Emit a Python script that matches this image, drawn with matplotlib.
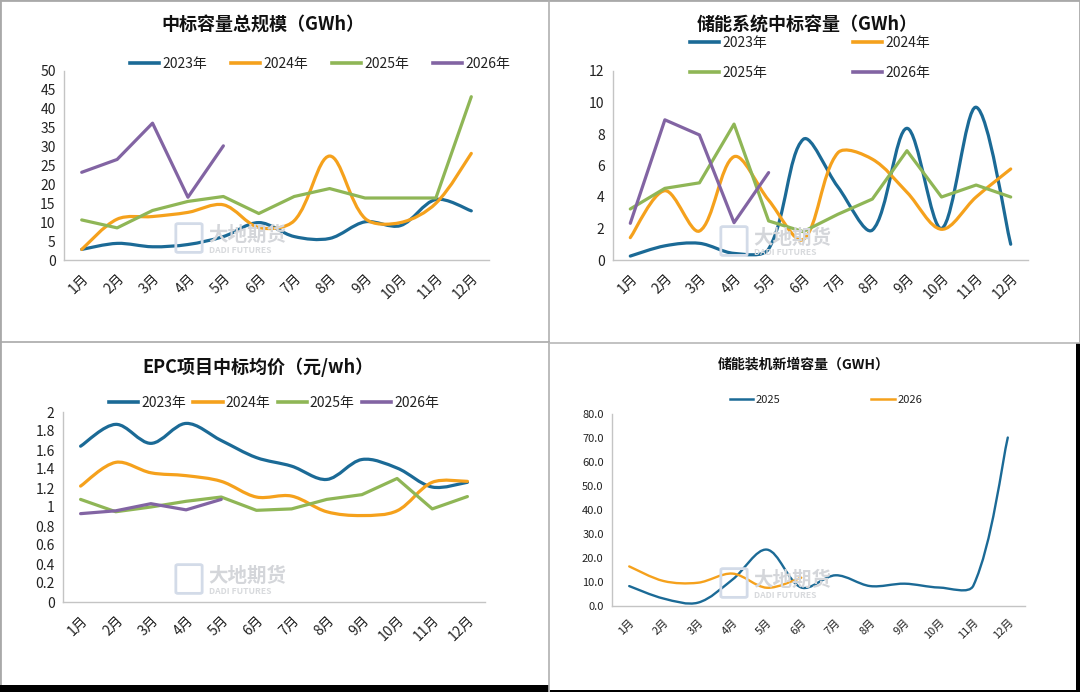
import numpy as np
import matplotlib
matplotlib.use("Agg")
import matplotlib.pyplot as plt
from matplotlib.path import Path
from matplotlib.patches import PathPatch, Rectangle, FancyBboxPatch
from matplotlib.lines import Line2D

plt.rcParams['font.family'] = ['Noto Sans CJK SC', 'DejaVu Sans']

months = ['1月', '2月', '3月', '4月', '5月', '6月', '7月', '8月', '9月', '10月', '11月', '12月']

# 中标容量总规模
total_2023 = [2.8, 4.4, 3.5, 4.1, 6.2, 9.9, 6.2, 5.7, 10.1, 9.1, 16.0, 13.0]
total_2024 = [2.8, 10.8, 11.5, 12.6, 14.6, 8.6, 10.4, 27.5, 11.0, 9.9, 15.0, 28.2]
total_2025 = [10.6, 8.5, 13.1, 15.5, 16.8, 12.3, 16.8, 18.9, 16.4, 16.4, 16.4, 43.2]
total_2026 = [23.2, 26.6, 36.2, 16.6, 30.2]

# 储能系统中标容量
sys_2023 = [0.25, 0.9, 1.06, 0.42, 0.7, 7.66, 4.65, 1.9, 8.36, 2.0, 9.7, 1.0]
sys_2024 = [1.42, 4.4, 1.84, 6.56, 3.8, 1.3, 6.8, 6.4, 4.3, 1.95, 4.0, 5.78]
sys_2025 = [3.24, 4.55, 4.9, 8.63, 2.48, 1.8, 2.9, 3.87, 6.94, 4.0, 4.76, 4.0]
sys_2026 = [2.33, 8.9, 7.94, 2.37, 5.55]

# EPC项目中标均价
epc_2023 = [1.64, 1.87, 1.67, 1.88, 1.70, 1.52, 1.43, 1.29, 1.50, 1.41, 1.21, 1.26]
epc_2024 = [1.22, 1.47, 1.36, 1.33, 1.27, 1.105, 1.115, 0.95, 0.91, 0.96, 1.26, 1.27]
epc_2025 = [1.08, 0.95, 1.0, 1.06, 1.105, 0.965, 0.98, 1.08, 1.13, 1.30, 0.98, 1.11]
epc_2026 = [0.93, 0.96, 1.035, 0.97, 1.08]

# 储能装机新增容量
inst_2025 = [8.3, 3.1, 1.4, 11.0, 23.5, 7.7, 12.8, 8.3, 9.3, 7.7, 8.5, 70.2]
inst_2026 = [16.5, 10.4, 9.7, 13.5, 7.6, 11.8]

C23 = '#1b6a96'
C24 = '#f5a11c'
C25 = '#8fb656'
C26 = '#8264a3'

W, H = 1080, 692
fig = plt.figure(figsize=(W / 100, H / 100), dpi=100)
fig.patch.set_facecolor('white')


def px_axes(left, top, right, bottom):
    return fig.add_axes([left / W, 1 - bottom / H, (right - left) / W, (bottom - top) / H])


def smooth(ax, vals, color, lw):
    # Excel like smoothing: bezier segments, tangents weighted by segment length
    x0, x1 = ax.get_xlim()
    y0, y1 = ax.get_ylim()
    bb = ax.get_position()
    sx = bb.width * W / (x1 - x0)
    sy = bb.height * H / (y1 - y0)
    pts = np.column_stack([np.arange(len(vals)) * sx, np.array(vals, dtype=float) * sy])
    n = len(pts)
    d = np.hypot(*np.diff(pts, axis=0).T)
    tang = np.zeros_like(pts)
    for i in range(1, n - 1):
        tang[i] = pts[i + 1] - pts[i - 1]
    verts = [pts[0]]
    codes = [Path.MOVETO]
    for i in range(n - 1):
        if i > 0:
            c1 = pts[i] + tang[i] * d[i] / (d[i - 1] + d[i]) / 3
        else:
            c1 = pts[i] + (pts[i + 1] - pts[i]) / 3 * 0.5
        if i + 1 < n - 1:
            c2 = pts[i + 1] - tang[i + 1] * d[i] / (d[i] + d[i + 1]) / 3
        else:
            c2 = pts[i + 1] - (pts[i + 1] - pts[i]) / 3 * 0.5
        verts += [c1, c2, pts[i + 1]]
        codes += [Path.CURVE4] * 3
    verts = np.array(verts) / [sx, sy]
    ax.add_patch(PathPatch(Path(verts, codes), fill=False, edgecolor=color,
                           lw=lw, capstyle='round', joinstyle='round', zorder=3))


def straight(ax, vals, color, lw):
    ax.plot(np.arange(len(vals)), vals, color=color, lw=lw,
            solid_capstyle='round', solid_joinstyle='round', zorder=3)


def style(ax, ymax, step, fs, fmt=None):
    ax.set_xlim(-0.5, 11.5)
    ax.set_ylim(0, ymax)
    ticks = np.arange(0, ymax + step / 2, step)
    ax.set_yticks(ticks)
    ax.set_yticklabels([(fmt % v) if fmt else ('%g' % round(v, 2)) for v in ticks])
    ax.set_xticks(np.arange(12))
    ax.set_xticklabels(months, rotation=45, ha='right', va='top', rotation_mode='anchor')
    for s in ['top', 'right']:
        ax.spines[s].set_visible(False)
    for s in ['left', 'bottom']:
        ax.spines[s].set_color('#c4c4c4')
        ax.spines[s].set_linewidth(1.0)
    ax.tick_params(length=0, labelsize=fs, colors='#222222', pad=6)
    ax.tick_params(axis='x', pad=8)
    ax.patch.set_alpha(0)


def watermark(x, y, fs=14):
    fig.add_artist(FancyBboxPatch(((x - 30) / W, 1 - (y + 16) / H), 22 / W, 26 / H,
                                  boxstyle='round,pad=0.002', fill=False,
                                  edgecolor='#d3dbe8', lw=2.0, zorder=1))
    fig.text(x / W, 1 - y / H, '大地期货', fontsize=fs, fontweight='bold',
             color='#d4d6da', ha='left', va='center', zorder=1)
    fig.text((x + 1) / W, 1 - (y + 15) / H, 'DADI FUTURES', fontsize=6.2,
             fontweight='bold', color='#d8dadd', ha='left', va='center', zorder=1)


def legend(ax, labels, colors, cx, cy, ncol, fs, lw, spacing, colsp, rowsp=0.5):
    handles = [Line2D([0], [0], color=c, lw=lw) for c in colors]
    ax.legend(handles, labels, loc='center', bbox_to_anchor=(cx / W, 1 - cy / H),
              bbox_transform=fig.transFigure, ncol=ncol, frameon=False,
              fontsize=fs, handlelength=spacing, handletextpad=0.2,
              columnspacing=colsp, labelspacing=rowsp, labelcolor='#222222')


# panel frames
fig.add_artist(Rectangle((0, 0), 1, 1, transform=fig.transFigure, fill=False,
                         edgecolor='#a9a9a9', lw=2))
fig.add_artist(Line2D([549 / W, 549 / W], [0, 1], color='#b0b0b0', lw=1.2))
fig.add_artist(Line2D([0, 549 / W], [1 - 342 / H, 1 - 342 / H], color='#a9a9a9', lw=1.2))
fig.add_artist(Line2D([549 / W, 1], [1 - 343 / H, 1 - 343 / H], color='#b8b8b8', lw=1.2))
fig.add_artist(Rectangle((0, 0), 549 / W, 7 / H, transform=fig.transFigure,
                         facecolor='black', edgecolor='none'))
fig.add_artist(Rectangle((550 / W, 0), 1 - 550 / W, 2 / H, transform=fig.transFigure,
                         facecolor='black', edgecolor='none'))
fig.add_artist(Rectangle((1076 / W, 0), 4 / W, 1 - 343 / H, transform=fig.transFigure,
                         facecolor='black', edgecolor='none'))

# panel 1
ax1 = px_axes(64, 71, 489, 260)
style(ax1, 50, 5, 10)
smooth(ax1, total_2023, C23, 2.3)
smooth(ax1, total_2024, C24, 2.3)
straight(ax1, total_2025, C25, 2.3)
straight(ax1, total_2026, C26, 2.3)
fig.text(263 / W, 1 - 25 / H, '中标容量总规模（GWh）', fontsize=13, fontweight='bold',
         ha='center', va='center', color='#111111')
legend(ax1, ['2023年', '2024年', '2025年', '2026年'], [C23, C24, C25, C26],
       320, 64, 4, 10, 2.6, 2.1, 1.75)
watermark(208, 235)

# panel 2
ax2 = px_axes(613, 71, 1028, 260)
style(ax2, 12, 2, 10)
smooth(ax2, sys_2023, C23, 2.3)
smooth(ax2, sys_2024, C24, 2.3)
straight(ax2, sys_2025, C25, 2.3)
straight(ax2, sys_2026, C26, 2.3)
fig.text(807 / W, 1 - 25 / H, '储能系统中标容量（GWh）', fontsize=13, fontweight='bold',
         ha='center', va='center', color='#111111')
legend(ax2, ['2023年', '2025年', '2024年', '2026年'], [C23, C25, C24, C26],
       810, 58, 2, 10, 2.6, 2.1, 6.2, rowsp=1.1)
watermark(753, 238)

# panel 3
ax3 = px_axes(63, 412, 485, 602)
style(ax3, 2, 0.2, 10)
smooth(ax3, epc_2023, C23, 2.3)
smooth(ax3, epc_2024, C24, 2.3)
straight(ax3, epc_2025, C25, 2.3)
straight(ax3, epc_2026, C26, 2.3)
fig.text(258 / W, 1 - 367 / H, 'EPC项目中标均价（元/wh）', fontsize=13, fontweight='bold',
         ha='center', va='center', color='#111111')
legend(ax3, ['2023年', '2024年', '2025年', '2026年'], [C23, C24, C25, C26],
       274, 403, 4, 10, 2.6, 2.1, 0.55)
watermark(208, 576)

# panel 4
ax4 = px_axes(612, 414, 1025, 606)
style(ax4, 80, 10, 8, fmt='%.1f')
smooth(ax4, inst_2025, C23, 1.7)
smooth(ax4, inst_2026, C24, 1.7)
fig.text(804 / W, 1 - 364 / H, '储能装机新增容量（GWH）', fontsize=10, fontweight='bold',
         ha='center', va='center', color='#111111')
legend(ax4, ['2025', '2026'], [C23, C24], 826, 400, 2, 8, 1.8, 2.1, 8.2)
watermark(753, 580)

fig.savefig('out.png', dpi=100)
